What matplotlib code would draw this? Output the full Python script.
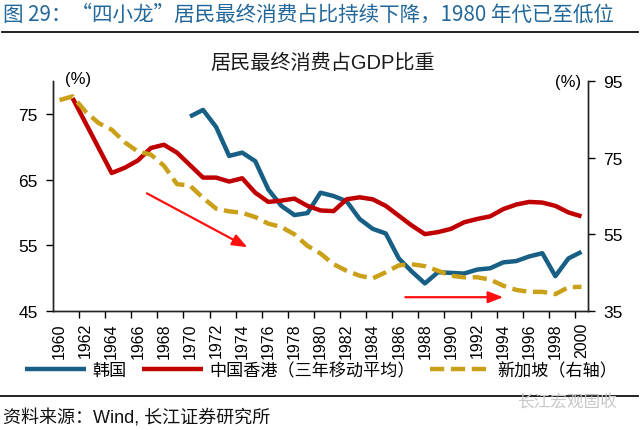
import numpy as np
import matplotlib
matplotlib.use('Agg')
import matplotlib.pyplot as plt
from matplotlib.lines import Line2D

plt.rcParams['font.family'] = ['Liberation Sans', 'Noto Sans CJK SC']
plt.rcParams['axes.unicode_minus'] = False

# data (share of GDP, %)
years = np.arange(1960, 2001)

korea_years = np.arange(1970, 2001)
korea = [74.6, 75.6, 73.0, 68.6, 69.1, 67.8, 63.5, 61.0, 59.6, 59.9,
         63.0, 62.5, 61.7, 59.0, 57.5, 56.8, 53.0, 51.0, 49.2, 50.9,
         50.8, 50.7, 51.3, 51.5, 52.4, 52.6, 53.3, 53.8, 50.3, 53.0,
         54.0]

hk_years = np.arange(1961, 2001)
hongkong = [77.4, 73.6, 69.8, 66.0, 66.8, 67.9, 69.8, 70.3, 69.1,
            67.2, 65.3, 65.3, 64.7, 65.2, 63.0, 61.6, 61.8, 62.1, 61.0,
            60.3, 60.2, 62.0, 62.3, 62.0, 61.0, 59.5, 58.0, 56.7, 57.0,
            57.5, 58.5, 59.0, 59.4, 60.5, 61.2, 61.6, 61.5, 61.0, 60.0,
            59.4]

sg_years = np.arange(1960, 2001)
singapore = [90.0, 91.0, 87.0, 84.0, 82.3, 79.0, 76.6, 75.8, 72.9, 68.1,
             67.7, 64.5, 61.7, 61.0, 60.6, 59.5, 57.8, 56.9, 55.0, 52.0,
             50.0, 47.2, 45.5, 44.2, 43.5, 45.1, 46.9, 47.2, 46.7, 45.5,
             44.2, 43.8, 43.8, 43.2, 41.6, 40.5, 40.0, 40.0, 39.4, 41.2,
             41.3]

left_ticks = [45, 55, 65, 75]
right_ticks = [35, 55, 75, 95]
tick_years = years[::2]

# trend arrows (year, left-axis value)
arrow1 = ((1966.7, 62.9), (1974.4, 54.7))
arrow2 = ((1986.5, 47.1), (1994.0, 47.1))

c_korea = '#175f84'
c_hk = '#c00000'
c_sg = '#c9a018'
c_title = '#22679a'

fig = plt.figure(figsize=(6.4, 4.31), dpi=100)
ax = fig.add_axes([53 / 640, 1 - 312 / 431, 535 / 640, 230 / 431])
ax2 = ax.twinx()

l1, = ax.plot(korea_years, korea, color=c_korea, lw=3.2,
              solid_joinstyle='round', solid_capstyle='butt', label='韩国')
l2, = ax.plot(hk_years, hongkong, color=c_hk, lw=3.2,
              solid_joinstyle='round', solid_capstyle='butt',
              label='中国香港（三年移动平均）')
l3, = ax2.plot(sg_years, singapore, color=c_sg, lw=3.2, dashes=(3.2, 1.5),
               dash_joinstyle='round', label='新加坡（右轴）')

ax.set_xlim(years[0] - 0.5, years[-1] + 0.5)
ax.set_ylim(45, 80)
ax2.set_ylim(35, 95)

ax.set_yticks(left_ticks)
ax2.set_yticks(right_ticks)
ax.set_xticks(tick_years)
ax.set_xticklabels([str(y) for y in tick_years], rotation=90, fontsize=11.5)
ax.set_xticks(np.arange(years[0] + 1.5, years[-1], 2), minor=True)
ax.tick_params(axis='x', which='major', length=0, pad=8)
ax.tick_params(axis='x', which='minor', length=5, width=1.0, direction='out')
ax.tick_params(axis='y', length=5, width=1.0, direction='out', labelsize=12.5, pad=6)
ax2.tick_params(axis='y', length=5, width=1.0, direction='out', labelsize=12.5, pad=6)

for a in (ax, ax2):
    a.spines['top'].set_visible(False)
    for s in ('left', 'right', 'bottom'):
        a.spines[s].set_linewidth(1.0)
        a.spines[s].set_color('#222222')

ax.text(0.047, 1.01, '(%)', transform=ax.transAxes, ha='center', va='center', fontsize=12)
ax2.text(0.963, 1.0, '(%)', transform=ax.transAxes, ha='center', va='center', fontsize=12)

for (x0, y0), (x1, y1) in (arrow1, arrow2):
    ax.annotate('', xy=(x1, y1), xytext=(x0, y0),
                arrowprops=dict(arrowstyle='-|>,head_length=0.9,head_width=0.35',
                                color='#ff1010', lw=1.6, shrinkA=0, shrinkB=0))

fig.legend(handles=[l1, l2, l3], loc='center', ncol=3, frameon=False,
           bbox_to_anchor=(321 / 640, 1 - 371 / 431), fontsize=12.3,
           handlelength=3.6, handletextpad=0.35, columnspacing=0.9)

fig.text(3 / 640, 1 - 15 / 431, '图 29：“四小龙”居民最终消费占比持续下降，1980 年代已至低位',
         ha='left', va='center', fontsize=14.8, color=c_title,
         family=['Noto Sans CJK SC', 'Liberation Sans'])
fig.add_artist(Line2D([2 / 640, 638 / 640], [1 - 33 / 431, 1 - 33 / 431],
                      color='#111111', lw=1.3))
fig.text(323 / 640, 1 - 63 / 431, '居民最终消费占GDP比重', ha='center', va='center',
         fontsize=14.5, color='#1a1a1a')
fig.add_artist(Line2D([0, 638 / 640], [1 - 397 / 431, 1 - 397 / 431],
                      color='#111111', lw=1.3))
fig.text(3 / 640, 1 - 418 / 431, '资料来源：Wind, 长江证券研究所', ha='left', va='center',
         fontsize=13, color='#111111')
fig.text(617 / 640, 1 - 402 / 431, '长江宏观固收', ha='right', va='center',
         fontsize=12, color='#c8c8c8')

fig.savefig('out.png', dpi=100)
